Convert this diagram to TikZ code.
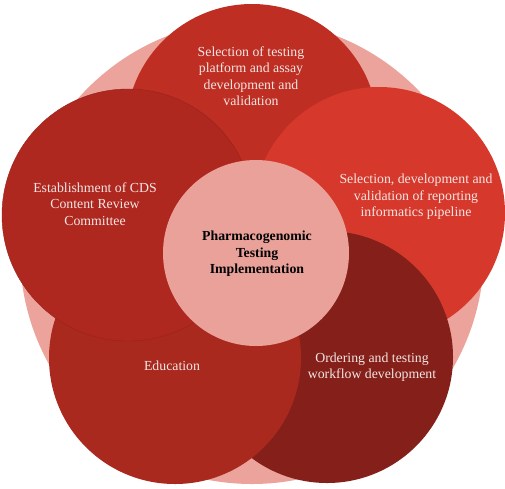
\documentclass[tikz,border=0pt]{standalone}
\usepackage{fontspec}
\setmainfont{Liberation Serif}
\definecolor{bgpink}{RGB}{235,163,156}
\definecolor{cpink}{RGB}{234,161,153}
\definecolor{ctop}{RGB}{190,46,35}
\definecolor{cleft}{RGB}{175,40,32}
\definecolor{cright}{RGB}{214,57,44}
\definecolor{cedu}{RGB}{169,41,31}
\definecolor{cord}{RGB}{133,31,25}
\definecolor{txtc}{RGB}{243,230,228}
\tikzset{
  petal/.style={circle, inner sep=0pt, minimum size=252pt},
  lbl/.style={align=center, text=txtc, inner sep=0pt, font=\fontsize{13.8}{16.5}\selectfont},
  hub/.style={circle, inner sep=0pt, minimum size=186pt, fill=cpink},
  hublbl/.style={align=center, text=black, inner sep=0pt, font=\bfseries\fontsize{13.8}{16.5}\selectfont}
}
\begin{document}
\begin{tikzpicture}[x=1pt,y=-1pt]
\useasboundingbox (0,0) rectangle (505,488);
\node[circle, inner sep=0pt, minimum size=464pt, fill=bgpink] (bg) at (252,252) {};
\node[petal, fill=ctop] (top) at (252,130) {};
\node[petal, fill=cright] (right) at (379,213) {};
\node[petal, fill=cord] (ord) at (327,357) {};
\node[petal, fill=cedu] (edu) at (175,358) {};
\node[petal, fill=cleft, draw=cleft!85!black, line width=0.4pt] (left) at (128,215) {};
\node[hub] (hubc) at (256,253) {};
\node[lbl] (toptxt) at (251,76) {Selection of testing\\platform and assay\\development and\\validation};
\node[lbl] (lefttxt) at (95,204) {Establishment of CDS\\Content Review\\Committee};
\node[lbl] (righttxt) at (416,197) {Selection, development and\\validation of reporting\\informatics pipeline};
\node[lbl] (edutxt) at (172,366) {Education};
\node[lbl] (ordtxt) at (372,367) {Ordering and testing\\workflow development};
\node[hublbl] (hubtxt) at (257,254) {Pharmacogenomic\\Testing\\Implementation};
\end{tikzpicture}
\end{document}
